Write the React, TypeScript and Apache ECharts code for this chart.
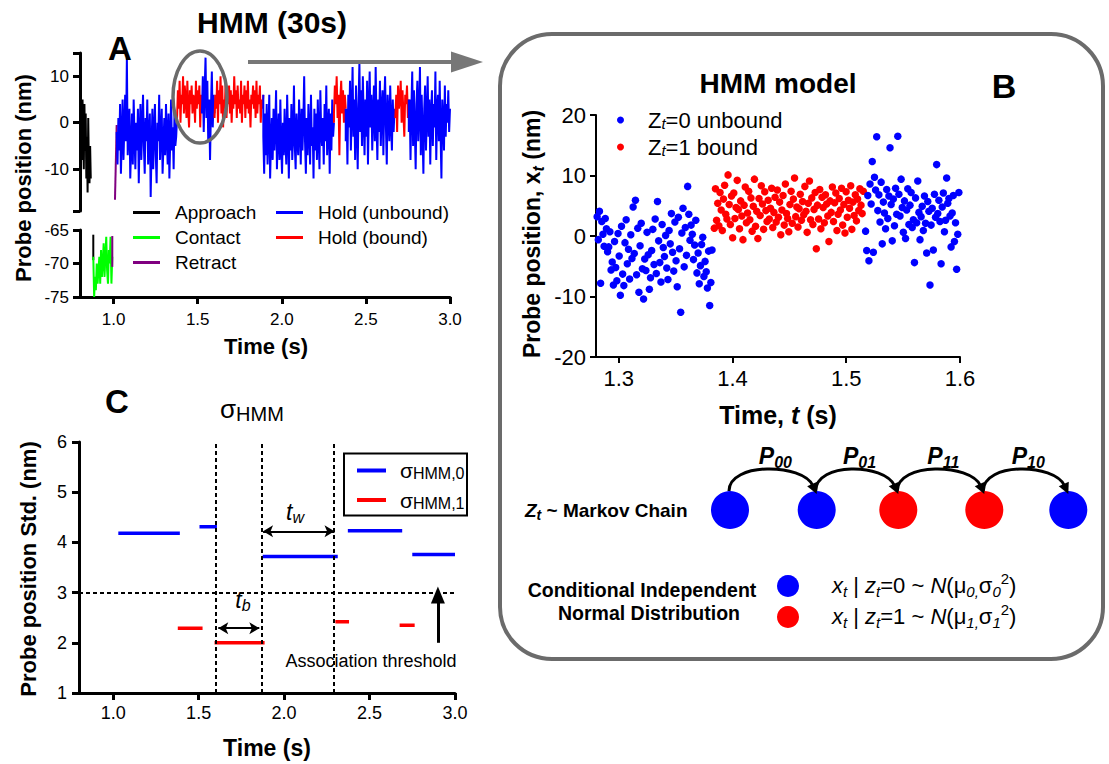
import React, { useEffect, useRef } from "react";
import * as echarts from "echarts";

const FONT = "'Liberation Sans', Arial, Helvetica, sans-serif";
const BLUE = "#0000ff";
const RED = "#ff0000";
const GREEN = "#00ff00";
const PURPLE = "#800080";
const GREY = "#6b6b6b";

// ---------------- Panel A : probe trace ----------------
const approachSpan = [0.8, 0.864];
const approachUpper = [0, -4, 3, -8, 5, -2, -10, 4, -6, 2, -12, -3, -15, 1, -9, -13, -5, -12];
const approachLower = [[0.879, -65.7], [0.879, -69.5]];
const contactSpan = [0.879, 0.992];
const contactValues = [-69, -75, -72, -74, -70, -73, -71, -69, -73, -68, -72, -70, -67, -72, -69, -66, -71, -73, -68, -70, -66, -73, -69];
const retractUpper = [[1.008, -16.6], [1.018, -0.5]];
const retractLower = [[0.992, -70.5], [0.992, -65.9]];

const holdBounds = [1.018, 1.377, 1.525, 1.6, 1.89, 2.31, 2.38, 2.675, 2.755, 3.0];
const holdStates = [0, 1, 0, 1, 0, 1, 0, 1, 0];
const hold1 = [-2, -9, 1, -6, 4, -11, -3, 5, -8, -1, 6, -4, 14, -7, -2, 3, -12, -5, 2, -9, 5, -3, -10, 0, -6, 3, -13, -2, 4, -8, -1, 6, -5, -11, 1, -4, 5, -9, -3, 2, -16, -6, 3, -10, -2, 4, -7, -13, 0, -4, 6, -8, -2, 3, -11, -5, 1, -7, 4, -3, -9, 2, -12, -4, 5, -6, -1, -10, 2, -5, -3, 1];
const hold2 = [1, 7, 3, 9, 0, 6, 4, 10, 2, 8, 5, 1, 9, 3, -1, 7, 4, 8, 2, 6, 5, 0, 9, 3, 7, 4, 8, -1, 6, 3];
const hold3 = [2, 10, -2, 7, 14, 1, 9, -4, 5, -8, 3, 11, -1, 6, 2];
const hold4 = [1, 6, 3, 9, 0, 7, 4, 10, 2, 8, -1, 5, 3, 9, 1, 6, 4, 8, 2, 7, 0, 6, 3, 10, 4, 7, 1, 8, 3, 5, 2, 9, 0, 6, 4, 8, 1, 7, 3, 9, 2, 5, -1, 6, 4, 8, 3, 7, 1, 9, 2, 6, 4, 8, 0, 5, 3, 6];
const hold5 = [-3, -11, 2, -7, 4, -9, -2, 6, -12, -4, 1, -8, 3, -6, -1, 7, -10, -3, 2, -8, 5, -5, -11, 0, -7, 3, -4, -9, 6, -2, -12, 1, -6, 4, -8, -3, 8, -5, -10, 2, -4, -7, 5, -1, -9, 3, -6, 0, 10, -4, -11, 1, -7, 4, -2, -9, 6, -5, -1, -12, 3, -6, 2, -8, 5, -3, -10, 7, -2, -5, 1, -9, 4, -4, 8, -7, -1, 3, -11, 2, -6, 5, -3, 0];
const hold6 = [2, 8, 4, 10, 1, 6, -7, 5, 9, 2, 7, 0, 6, 3];
const hold7 = [-4, 3, -9, 6, -1, 9, -6, 2, 12, -3, 5, -8, 8, 0, -10, 4, 13, -2, 7, -5, 10, 1, -7, 5, -3, 9, -9, 3, 11, -1, 6, -6, 2, 8, -4, 12, 0, -8, 5, -2, 9, -5, 3, 7, -7, 4, 10, -1, -9, 6, 2, -4, 8, 0, -6, 5, -2, 3, 1];
const hold8 = [1, 6, -2, 8, 3, 5, 9, 0, 7, 2, -3, 6, 4, 8, 1, 5];
const hold9 = [-2, 5, -8, 3, 11, -5, 7, -1, -10, 4, 9, -4, 2, 12, -7, 6, -2, -11, 3, 8, -6, 1, 10, -3, 5, -9, 2, 7, -5, 4, -1, 11, -8, 3, 6, -4, 9, -2, -12, 5, 1, -6, 8, -3, 4, 0, 7, -2, 3];
const holdValues = [hold1, hold2, hold3, hold4, hold5, hold6, hold7, hold8, hold9];

// ---------------- Panel C : sigma HMM ----------------
const sigmaStart = [1.03, 1.378, 1.505, 1.593, 1.875, 2.3, 2.373, 2.676, 2.75];
const sigmaEnd = [1.39, 1.523, 1.607, 1.886, 2.314, 2.38, 2.691, 2.764, 3.0];
const sigmaValue = [4.18, 2.29, 4.31, 2.0, 3.72, 2.42, 4.23, 2.35, 3.76];
const sigmaState = [0, 1, 0, 1, 0, 1, 0, 1, 0];
const boundaryTimes = [1.603, 1.873, 2.295];
const thresholdValue = 3;
const tbArrow = [1.615, 1.855, 2.29];
const twArrow = [1.877, 2.295, 4.22];
const thresholdArrow = [2.9, 2.0, 2.95];

// ---------------- Panel B : scatter ----------------
const scatterSpanBlue1 = [1.281, 1.382];
const scatterBlue1 = [
  3.2, -0.6, 4.1, -7.8, 2.4, 0.3, -1.7, 2.9, 1.2, -2.6,
  -1.8, 0.7, -5.6, -4.3, -8.1, -0.9, -5.2, -7.4, 0.4, -3.3,
  -9.8, 1.6, -6.3, -8.2, -1.1, 2.7, -4.6, -2.2, -7.1, 0.2,
  -3.7, 4.8, -2.9, 5.9, -6.4, 1.3, -9.3, -1.6, 2.1, -5.4,
  -10.4, -3.8, -5.7, 0.6, -3.1, -8.8, -6.9, -2.4, 1.1, -4.7,
  2.8, -6.2, 5.7, -0.8, -4.4, -7.6, 1.9, -1.9, -3.4, 0.1,
  -5.3, -7.2, 0.9, -1.3, 3.7, -2.7, -5.8, 2.3, -4.1, -8.4,
  3.1, -2.1, -12.6, 0.5, 4.6, -5.1, 1.4, -3.2, 8.2, 3.6,
  -0.7, 1.8, 0.3, -3.9, -1.5, 2.6, -6.1, -2.8, -7.9, -4.9,
  -1.4, -0.2, -6.7, -4.2, -5.9, -8.6, -2.5, -11.5, -7.7, -2.3,
];
const scatterSpanRed = [1.384, 1.515];
const scatterRed = [
  1.3, 7.8, 2.6, 5.4, 1.7, 7.2, 4.3, 0.9, 6.1, 8.4,
  3.6, 2.8, 10.1, 5.2, 1.9, 6.6, -0.3, 7.1, 2.9, 4.7,
  9.2, 4.4, 1.2, 5.8, 3.3, -0.6, 5.1, 8.1, 2.2, 3.8,
  7.4, 2.7, 6.3, 0.8, 4.9, 9.4, 1.6, 4.1, -0.4, 6.2,
  3.4, 8.3, 5.3, 1.1, 7.3, 4.2, 2.4, 5.9, 2.8, 4.6,
  7.9, 1.4, 3.9, 6.4, 2.3, 7.6, 3.1, 5.6, 0.2, 4.3,
  6.7, 1.8, 8.6, 3.7, 2.9, 0.7, 5.2, 7.4, 2.1, 6.1,
  9.6, 3.2, 4.8, 1.5, 4.5, 6.9, 2.6, 5.7, 3.5, 8.2,
  4.1, 0.6, 5.4, 9.1, 2.7, 6.3, 1.9, 4.4, 7.2, -2.1,
  5.1, 2.8, 7.7, 1.2, 6.4, 4.7, 2.2, 6.8, 5.3, 3.3,
  -0.9, 5.8, 3.9, 8.1, 2.4, 5.5, 7.1, 0.9, 3.6, 6.2,
  4.3, 7.9, 1.8, 5.2, 0.5, 7.3, 3.1, 5.9, 4.6, 8.3,
  1.1, 5.6, 3.4, 6.8, 2.5, 6.1, 4.2, 7.8, 5.1, 3.7, 7.4,
];
const scatterSpanBlue2 = [1.517, 1.599];
const scatterBlue2 = [
  0.8, -2.4, 6.7, -4.1, 8.6, 5.3, 12.3, -2.7, 9.7, 7.6,
  16.4, 4.2, 6.8, 2.3, 8.9, -1.3, 5.6, 3.8, 1.2, 7.7,
  2.9, 6.6, 14.6, 5.2, -0.8, 6.1, 1.7, 7.9, 3.6, 16.5,
  6.9, 3.3, 9.4, 4.7, 0.6, 5.8, -0.4, 4.3, 7.8, 1.9,
  5.1, 7.2, 1.4, 2.7, -4.4, 6.3, 2.2, 9.1, 3.9, -0.6,
  3.2, 4.9, 0.9, 6.6, 2.1, -2.8, 5.7, 4.1, -8.1, 1.8,
  4.6, -2.3, 6.9, 3.1, 11.8, 3.7, 5.9, 2.4, -4.6, 4.8,
  7.1, 0.7, 2.6, 9.6, 5.4, 6.2, 3.3, -1.8, 3.8, 6.7,
  -0.9, 2.2, -5.5, 0.3, 7.2,
];

// Markov-chain diagram layout
const chainX = [730, 816.7, 898.3, 984.3, 1068.3];
const chainY = 510;
const chainState = [0, 0, 1, 1, 0];
const chainLabels = ["00", "01", "11", "10"];

function sampled(span: number[], vals: number[]) {
  const [s, e] = span;
  const n = vals.length;
  return vals.map((v, i) => [s + (i * (e - s)) / (n - 1), v]);
}

const tx = (size: number, extra: any = {}) => ({
  fontSize: size,
  lineHeight: Math.round(size * 1.25),
  fontFamily: FONT,
  fill: "#000",
  color: "#000",
  ...extra,
});
const subS = (size: number, extra: any = {}) => ({
  fontSize: size,
  lineHeight: size,
  verticalAlign: "bottom",
  fontFamily: FONT,
  fill: "#000",
  color: "#000",
  ...extra,
});
const supS = (size: number, extra: any = {}) => ({
  fontSize: size,
  lineHeight: size,
  verticalAlign: "top",
  fontFamily: FONT,
  fill: "#000",
  color: "#000",
  ...extra,
});

function text(x: number, y: number, t: string, style: any = {}, extra: any = {}) {
  return {
    type: "text",
    x,
    y,
    silent: true,
    z: 100,
    ...extra,
    style: {
      text: t,
      fontFamily: FONT,
      fill: "#000",
      align: "center",
      verticalAlign: "middle",
      ...style,
    },
  };
}

function buildGraphic() {
  const g: any[] = [];
  // Panel A
  g.push(text(272, 22, "HMM (30s)", { fontSize: 30, fontWeight: "bold" }));
  g.push(text(120, 48, "A", { fontSize: 33, fontWeight: "bold" }));
  g.push(text(23, 178, "Probe position (nm)", { fontSize: 22, fontWeight: "bold" }, { rotation: Math.PI / 2 }));
  g.push(text(266, 346, "Time (s)", { fontSize: 22, fontWeight: "bold" }));
  g.push({
    type: "ellipse",
    silent: true,
    z: 100,
    shape: { cx: 200, cy: 97, rx: 27, ry: 46 },
    style: { fill: "none", stroke: GREY, lineWidth: 3.5 },
  });
  g.push({
    type: "line",
    silent: true,
    z: 100,
    shape: { x1: 248, y1: 62, x2: 455, y2: 62 },
    style: { stroke: "#777", lineWidth: 4 },
  });
  g.push({
    type: "polygon",
    silent: true,
    z: 100,
    shape: { points: [[451, 51.5], [483, 62], [451, 72.5]] },
    style: { fill: "#777" },
  });

  // Panel C
  g.push(text(117, 401, "C", { fontSize: 33, fontWeight: "bold" }));
  g.push(
    text(220, 409, "{s|σ}{h|HMM}", {
      align: "left",
      rich: { s: tx(26, { lineHeight: 30 }), h: subS(20, { lineHeight: 20 }) },
    })
  );
  g.push(text(28, 569, "Probe position Std. (nm)", { fontSize: 22, fontWeight: "bold" }, { rotation: Math.PI / 2 }));
  g.push(text(267, 748, "Time (s)", { fontSize: 23, fontWeight: "bold" }));
  g.push(
    text(243, 600, "{t|t}{s|b}", {
      rich: { t: tx(23, { fontStyle: "italic", lineHeight: 26 }), s: subS(16, { fontStyle: "italic", lineHeight: 16 }) },
    })
  );
  g.push(
    text(295, 512, "{t|t}{s|w}", {
      rich: { t: tx(23, { fontStyle: "italic", lineHeight: 26 }), s: subS(16, { fontStyle: "italic", lineHeight: 16 }) },
    })
  );
  g.push(text(371, 661, "Association threshold", { fontSize: 18 }));
  g.push({
    type: "rect",
    silent: true,
    z: 100,
    shape: { x: 344, y: 453.5, width: 123, height: 62 },
    style: { fill: "none", stroke: "#000", lineWidth: 2 },
  });

  // Panel B box
  g.push({
    type: "rect",
    silent: true,
    z: 1,
    shape: { x: 500, y: 34, width: 603, height: 625, r: 52 },
    style: { fill: "none", stroke: GREY, lineWidth: 4 },
  });
  g.push(text(778, 83, "HMM model", { fontSize: 28, fontWeight: "bold" }));
  g.push(text(1004, 86, "B", { fontSize: 34, fontWeight: "bold" }));
  g.push(
    text(
      532,
      234,
      "{b|Probe position, }{x|x}{t|t}{b| (nm)}",
      {
        rich: {
          b: tx(23, { fontWeight: "bold", lineHeight: 28 }),
          x: tx(23, { fontWeight: "bold", lineHeight: 28 }),
          t: subS(16, { fontWeight: "bold", fontStyle: "italic", lineHeight: 16 }),
        },
      },
      { rotation: Math.PI / 2 }
    )
  );
  g.push(
    text(778, 415, "{b|Time, }{i|t}{b| (s)}", {
      rich: {
        b: tx(25, { fontWeight: "bold" }),
        i: tx(25, { fontWeight: "bold", fontStyle: "italic" }),
      },
    })
  );

  // Markov chain
  g.push(
    text(525, 510, "{z|Z}{t|t}{b| ~ Markov Chain}", {
      align: "left",
      rich: {
        z: tx(19, { fontWeight: "bold", fontStyle: "italic", lineHeight: 24 }),
        t: subS(14, { fontWeight: "bold", fontStyle: "italic", lineHeight: 14 }),
        b: tx(19, { fontWeight: "bold", lineHeight: 24 }),
      },
    })
  );
  chainX.forEach((cx, i) => {
    g.push({
      type: "circle",
      silent: true,
      z: 100,
      shape: { cx, cy: chainY, r: 19 },
      style: { fill: chainState[i] ? RED : BLUE },
    });
  });
  for (let i = 0; i < chainX.length - 1; i++) {
    const x1 = chainX[i] - 1;
    const y1 = chainY - 19;
    const tipX = chainX[i + 1];
    const tipY = chainY - 16;
    const c2x = tipX - 14;
    const c2y = 463;
    let dx = tipX - c2x;
    let dy = tipY - c2y;
    const len = Math.hypot(dx, dy);
    dx /= len;
    dy /= len;
    const L = 11;
    const W = 5.5;
    const bx = tipX - dx * L;
    const by = tipY - dy * L;
    g.push({
      type: "bezierCurve",
      silent: true,
      z: 101,
      shape: { x1, y1, cpx1: x1, cpy1: 462, cpx2: c2x, cpy2: c2y, x2: bx + dx * 2, y2: by + dy * 2 },
      style: { stroke: "#000", lineWidth: 3, fill: "none" },
    });
    g.push({
      type: "polygon",
      silent: true,
      z: 101,
      shape: {
        points: [
          [tipX, tipY],
          [bx - dy * W, by + dx * W],
          [bx + dy * W, by - dx * W],
        ],
      },
      style: { fill: "#000" },
    });
    g.push(
      text((chainX[i] + chainX[i + 1]) / 2 + 2, 456, `{p|P}{s|${chainLabels[i]}}`, {
        rich: {
          p: tx(23, { fontWeight: "bold", fontStyle: "italic", lineHeight: 28 }),
          s: subS(16, { fontWeight: "bold", fontStyle: "italic", lineHeight: 16 }),
        },
      })
    );
  }

  // Conditional distributions
  g.push(text(642, 590, "Conditional Independent", { fontSize: 19.5, fontWeight: "bold" }));
  g.push(text(649, 613, "Normal Distribution", { fontSize: 19.5, fontWeight: "bold" }));
  g.push({ type: "circle", silent: true, z: 100, shape: { cx: 788, cy: 586, r: 11 }, style: { fill: BLUE } });
  g.push({ type: "circle", silent: true, z: 100, shape: { cx: 788, cy: 617, r: 11 }, style: { fill: RED } });
  const fRich = {
    m: tx(22, { lineHeight: 28 }),
    i: tx(22, { fontStyle: "italic", lineHeight: 28 }),
    s: subS(15, { fontStyle: "italic", lineHeight: 15 }),
    u: supS(15, { lineHeight: 15 }),
  };
  ["0", "1"].forEach((k, j) => {
    g.push(
      text(
        832,
        585 + j * 31,
        `{i|x}{s|t}{m| | }{i|z}{s|t}{m|=${k} ~ }{i|N}{m|(μ}{s|${k},}{m|σ}{s|${k}}{u|2}{m|)}`,
        { align: "left", rich: fRich }
      )
    );
  });
  return g;
}

function buildOption() {
  const axisLineA = { onZero: false, lineStyle: { color: "#000", width: 3 } };
  const tickA = { length: 7, lineStyle: { color: "#000", width: 3 } };
  const labelBase = { color: "#000", fontFamily: FONT };
  const timeTicks = [1.0, 1.5, 2.0, 2.5, 3.0];
  const fmt1 = (v: number) => v.toFixed(1);

  const series: any[] = [];
  // Panel A
  const lineCommon = { type: "line", symbol: "none", silent: true, animation: false };
  series.push({
    ...lineCommon,
    name: "Approach",
    xAxisIndex: 0,
    yAxisIndex: 0,
    data: sampled(approachSpan, approachUpper),
    lineStyle: { color: "#000", width: 2 },
    itemStyle: { color: "#000" },
  });
  series.push({
    ...lineCommon,
    name: "Approach",
    xAxisIndex: 1,
    yAxisIndex: 1,
    data: approachLower,
    lineStyle: { color: "#000", width: 2 },
    itemStyle: { color: "#000" },
  });
  series.push({
    ...lineCommon,
    name: "Contact",
    xAxisIndex: 1,
    yAxisIndex: 1,
    data: sampled(contactSpan, contactValues),
    lineStyle: { color: GREEN, width: 2 },
    itemStyle: { color: GREEN },
  });
  series.push({
    ...lineCommon,
    name: "Retract",
    xAxisIndex: 0,
    yAxisIndex: 0,
    data: retractUpper,
    lineStyle: { color: PURPLE, width: 2 },
    itemStyle: { color: PURPLE },
  });
  series.push({
    ...lineCommon,
    name: "Retract",
    xAxisIndex: 1,
    yAxisIndex: 1,
    data: retractLower,
    lineStyle: { color: PURPLE, width: 2 },
    itemStyle: { color: PURPLE },
  });
  let prev: number[] | null = null;
  holdValues.forEach((vals, i) => {
    const pts = sampled([holdBounds[i], holdBounds[i + 1]], vals);
    const data = prev ? [prev, ...pts] : pts;
    prev = pts[pts.length - 1];
    const c = holdStates[i] ? RED : BLUE;
    series.push({
      ...lineCommon,
      name: holdStates[i] ? "Hold (bound)" : "Hold (unbound)",
      xAxisIndex: 0,
      yAxisIndex: 0,
      data,
      lineStyle: { color: c, width: 2 },
      itemStyle: { color: c },
    });
  });

  // Panel C
  sigmaStart.forEach((s, i) => {
    const c = sigmaState[i] ? RED : BLUE;
    series.push({
      ...lineCommon,
      name: sigmaState[i] ? "sigma1" : "sigma0",
      xAxisIndex: 2,
      yAxisIndex: 2,
      data: [
        [s, sigmaValue[i]],
        [sigmaEnd[i], sigmaValue[i]],
      ],
      lineStyle: { color: c, width: 3.5 },
      itemStyle: { color: c },
    });
  });
  series.push({
    type: "line",
    name: "guides",
    xAxisIndex: 2,
    yAxisIndex: 2,
    data: [],
    silent: true,
    markLine: {
      silent: true,
      animation: false,
      symbol: ["none", "none"],
      label: { show: false },
      lineStyle: { color: "#000", width: 2, type: [4, 3] },
      data: [...boundaryTimes.map((t) => ({ xAxis: t })), { yAxis: thresholdValue }],
    },
  });
  series.push({
    type: "line",
    name: "dwell",
    xAxisIndex: 2,
    yAxisIndex: 2,
    data: [],
    silent: true,
    markLine: {
      silent: true,
      animation: false,
      symbol: ["arrow", "arrow"],
      symbolSize: [9, 10],
      label: { show: false },
      lineStyle: { color: "#000", width: 2, type: "solid" },
      data: [
        [{ coord: [tbArrow[0], tbArrow[2]] }, { coord: [tbArrow[1], tbArrow[2]] }],
        [{ coord: [twArrow[0], twArrow[2]] }, { coord: [twArrow[1], twArrow[2]] }],
      ],
    },
  });
  series.push({
    type: "line",
    name: "thresholdArrow",
    xAxisIndex: 2,
    yAxisIndex: 2,
    data: [],
    silent: true,
    markLine: {
      silent: true,
      animation: false,
      symbol: ["none", "triangle"],
      symbolSize: [14, 17],
      label: { show: false },
      lineStyle: { color: "#000", width: 3, type: "solid" },
      data: [[{ coord: [thresholdArrow[0], thresholdArrow[1]] }, { coord: [thresholdArrow[0], thresholdArrow[2]] }]],
    },
  });

  // Panel B
  const scatterCommon = { type: "scatter", xAxisIndex: 3, yAxisIndex: 3, symbolSize: 7.5, silent: true };
  series.push({ ...scatterCommon, name: "Z0", data: sampled(scatterSpanBlue1, scatterBlue1), itemStyle: { color: BLUE, opacity: 1 } });
  series.push({ ...scatterCommon, name: "Z1", data: sampled(scatterSpanRed, scatterRed), itemStyle: { color: RED, opacity: 1 } });
  series.push({ ...scatterCommon, name: "Z0", data: sampled(scatterSpanBlue2, scatterBlue2), itemStyle: { color: BLUE, opacity: 1 } });

  const legendText = (extra: any = {}) => ({ fontSize: 19, lineHeight: 19, color: "#000", fontFamily: FONT, padding: [0, 0, 0, 10], ...extra });

  return {
    animation: false,
    textStyle: { fontFamily: FONT },
    grid: [
      { left: 80, top: 53, width: 370, height: 158 },
      { left: 80, top: 230, width: 370, height: 67 },
      { left: 79, top: 442, width: 376, height: 251 },
      { left: 596, top: 115, width: 364, height: 242 },
    ],
    xAxis: [
      { gridIndex: 0, type: "value", min: 0.8, max: 3.0, show: false, axisLine: { onZero: false } },
      {
        gridIndex: 1,
        type: "value",
        min: 0.8,
        max: 3.0,
        axisLine: axisLineA,
        axisTick: { ...tickA, customValues: timeTicks },
        axisLabel: { ...labelBase, fontSize: 17, margin: 14, customValues: timeTicks, formatter: fmt1 },
        splitLine: { show: false },
      },
      {
        gridIndex: 2,
        type: "value",
        min: 0.8,
        max: 3.0,
        axisLine: axisLineA,
        axisTick: { ...tickA, customValues: timeTicks },
        axisLabel: { ...labelBase, fontSize: 18, margin: 11, customValues: timeTicks, formatter: fmt1 },
        splitLine: { show: false },
      },
      {
        gridIndex: 3,
        type: "value",
        min: 1.28,
        max: 1.6,
        axisLine: { onZero: false, lineStyle: { color: "#000", width: 2 } },
        axisTick: { length: 6, lineStyle: { color: "#000", width: 2 }, customValues: [1.3, 1.4, 1.5, 1.6] },
        axisLabel: { ...labelBase, fontSize: 22, margin: 10, customValues: [1.3, 1.4, 1.5, 1.6], formatter: fmt1 },
        splitLine: { show: false },
      },
    ],
    yAxis: [
      {
        gridIndex: 0,
        type: "value",
        min: -19,
        max: 15,
        axisLine: axisLineA,
        axisTick: { ...tickA, customValues: [-19, -10, 0, 10, 15] },
        axisLabel: { ...labelBase, fontSize: 17, margin: 11, customValues: [-10, 0, 10] },
        splitLine: { show: false },
      },
      {
        gridIndex: 1,
        type: "value",
        min: -75,
        max: -65,
        interval: 5,
        axisLine: axisLineA,
        axisTick: tickA,
        axisLabel: { ...labelBase, fontSize: 17, margin: 11 },
        splitLine: { show: false },
      },
      {
        gridIndex: 2,
        type: "value",
        min: 1,
        max: 6,
        interval: 1,
        axisLine: axisLineA,
        axisTick: tickA,
        axisLabel: { ...labelBase, fontSize: 18, margin: 12 },
        splitLine: { show: false },
      },
      {
        gridIndex: 3,
        type: "value",
        min: -20,
        max: 20,
        interval: 10,
        axisLine: { onZero: false, lineStyle: { color: "#000", width: 2 } },
        axisTick: { length: 6, lineStyle: { color: "#000", width: 2 } },
        axisLabel: { ...labelBase, fontSize: 22, margin: 10 },
        splitLine: { show: false },
      },
    ],
    legend: [
      {
        data: ["Approach", "Contact", "Retract"],
        orient: "vertical",
        left: 133,
        top: 203,
        padding: 0,
        icon: "rect",
        itemWidth: 27,
        itemHeight: 3,
        itemGap: 6,
        selectedMode: false,
        textStyle: legendText(),
      },
      {
        data: ["Hold (unbound)", "Hold (bound)"],
        orient: "vertical",
        left: 276,
        top: 203,
        padding: 0,
        icon: "rect",
        itemWidth: 27,
        itemHeight: 3,
        itemGap: 6,
        selectedMode: false,
        textStyle: legendText(),
      },
      {
        data: ["sigma0", "sigma1"],
        orient: "vertical",
        left: 357,
        top: 460,
        padding: 0,
        icon: "rect",
        itemWidth: 29,
        itemHeight: 4,
        itemGap: 8,
        selectedMode: false,
        formatter: (n: string) => (n === "sigma0" ? "{s|σ}{h|HMM,0}" : "{s|σ}{h|HMM,1}"),
        textStyle: {
          padding: [0, 0, 0, 9],
          rich: { s: tx(21, { lineHeight: 22 }), h: subS(16, { lineHeight: 14 }) },
        },
      },
      {
        data: ["Z0", "Z1"],
        orient: "vertical",
        left: 617,
        top: 109,
        padding: 0,
        icon: "circle",
        itemWidth: 7,
        itemHeight: 7,
        itemGap: 5,
        selectedMode: false,
        formatter: (n: string) => (n === "Z0" ? "{m|Z}{s|t}{m|=0 unbound}" : "{m|Z}{s|t}{m|=1 bound}"),
        textStyle: {
          padding: [0, 0, 0, 19],
          rich: { m: tx(22, { lineHeight: 22 }), s: subS(15, { fontStyle: "italic", lineHeight: 12 }) },
        },
      },
    ],
    graphic: buildGraphic(),
    series,
  };
}

export default function App() {
  const ref = useRef<HTMLDivElement>(null);
  useEffect(() => {
    document.body.style.margin = "0";
    const chart = echarts.init(ref.current!, undefined, { renderer: "svg" });
    chart.setOption(buildOption() as any);
    return () => chart.dispose();
  }, []);
  return <div ref={ref} style={{ width: 1109, height: 764, background: "#fff" }} />;
}
